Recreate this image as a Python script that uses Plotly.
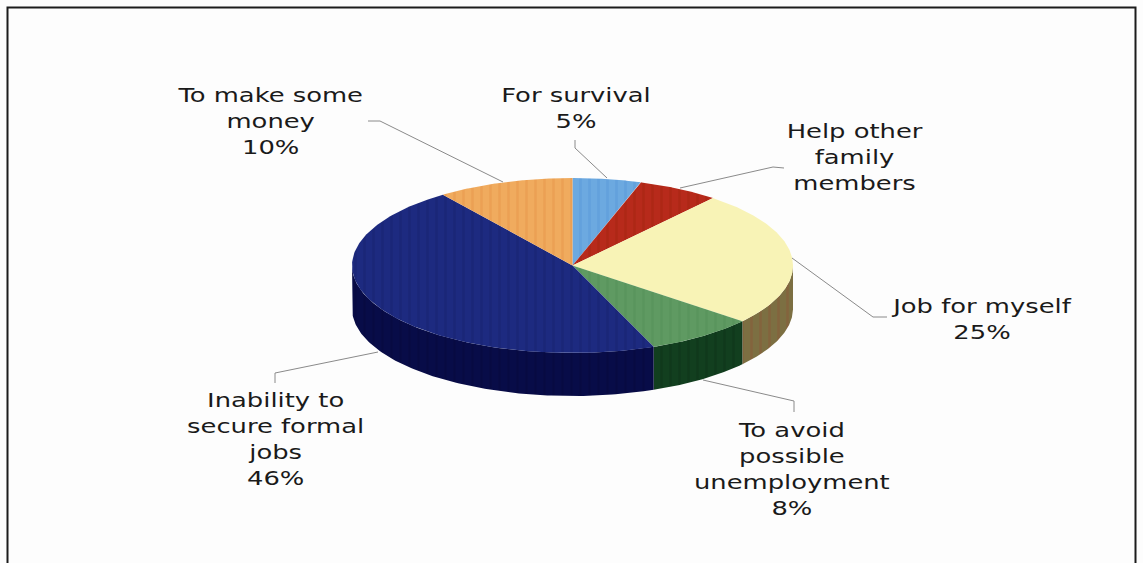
import numpy as np
import plotly.graph_objects as go

categories = ["For survival", "Help other family members", "Job for myself",
              "To avoid possible unemployment", "Inability to secure formal jobs",
              "To make some money"]
values = [5, 6, 25, 8, 46, 10]
top_colors = ["#6CA9E0", "#B72A1B", "#F8F3B6", "#5F9A62", "#1D2A80", "#F0AB5E"]
side_colors = ["#3A5F80", "#6A1810", "#7C6F42", "#123F1F", "#080C48", "#8A6030"]
stripe_colors = ["#5A9AD8", "#A5240F", "#F8F3B6", "#548F58", "#17226F", "#E8964A"]
side_stripe_colors = ["#3A5F80", "#6A1810", "#8A5A38", "#0D3318", "#05083C", "#8A6030"]
label_texts = ["For survival<br>5%", "Help other<br>family<br>members", "Job for myself<br>25%",
               "To avoid<br>possible<br>unemployment<br>8%",
               "Inability to<br>secure formal<br>jobs<br>46%", "To make some<br>money<br>10%"]
label_x = [576, 855, 981, 792, 275, 270]
label_y = [108, 157, 319, 469, 439, 121]
leader_x = [[575, 575, 607], [680, 773, 784], [792, 873, 887], [703, 794, 794], [378, 275, 275], [503, 380, 368]]
leader_y = [[140, 148, 178], [188, 167, 168], [258, 317, 317], [380, 401, 412], [352, 373, 383], [182, 121, 121]]

cx, cy, rx, ry, depth = 572.5, 265.5, 220.5, 87.5, 43

def px(a):
    return cx + rx * np.sin(a)

def py(a):
    return cy - ry * np.cos(a)

fig = go.Figure()
fractions = np.array(values) / sum(values)
edges = np.concatenate([[0], np.cumsum(fractions)]) * 2 * np.pi

for i in range(len(values)):
    a0, a1 = max(edges[i], np.pi / 2), min(edges[i + 1], 3 * np.pi / 2)
    if a1 <= a0:
        continue
    a = np.linspace(a0, a1, 120)
    x = np.concatenate([px(a), px(a[::-1])])
    y = np.concatenate([py(a), py(a[::-1]) + depth])
    fig.add_trace(go.Scatter(x=x, y=y, mode="lines", fill="toself", fillcolor=side_colors[i],
                             fillpattern=dict(shape="|", size=9, solidity=0.3, bgcolor=side_colors[i],
                                              fgcolor=side_stripe_colors[i], fgopacity=0.5),
                             line=dict(width=0), hoverinfo="skip", showlegend=False))
for i in range(len(values)):
    a = np.linspace(edges[i], edges[i + 1], 160)
    x = np.concatenate([[cx], px(a), [cx]])
    y = np.concatenate([[cy], py(a), [cy]])
    fig.add_trace(go.Scatter(x=x, y=y, mode="lines", fill="toself", fillcolor=top_colors[i],
                             fillpattern=dict(shape="|", size=9, solidity=0.3, bgcolor=top_colors[i],
                                              fgcolor=stripe_colors[i], fgopacity=0.5),
                             line=dict(width=0), name=categories[i], showlegend=False))
for lx, ly in zip(leader_x, leader_y):
    fig.add_trace(go.Scatter(x=lx, y=ly, mode="lines", line=dict(color="#8a8a8a", width=1),
                             hoverinfo="skip", showlegend=False))
for t, lx, ly in zip(label_texts, label_x, label_y):
    fig.add_annotation(x=lx, y=ly, text=t, showarrow=False, xanchor="center", yanchor="middle",
                       font=dict(family="DejaVu Sans", size=20, color="#1a1a1a"))
fig.add_shape(type="path", path="M 7.5 570 L 7.5 7.5 L 1135.5 7.5 L 1135.5 570",
              line=dict(color="#1c1c1c", width=2))
fig.update_layout(width=1143, height=563, margin=dict(l=0, r=0, t=0, b=0),
                  paper_bgcolor="#FDFDFD", plot_bgcolor="#FDFDFD",
                  xaxis=dict(range=[0, 1143], visible=False, fixedrange=True),
                  yaxis=dict(range=[563, 0], visible=False, fixedrange=True))
post = """
document.body.style.margin = '0';
document.documentElement.style.overflow = 'hidden';
document.querySelectorAll('text.annotation-text').forEach(function (t) {
  t.style.transformBox = 'fill-box';
  t.style.transformOrigin = 'center';
  t.style.transform = 'scaleX(1.29)';
});
"""
fig.write_html("out.html", config=dict(displayModeBar=False), post_script=post)
